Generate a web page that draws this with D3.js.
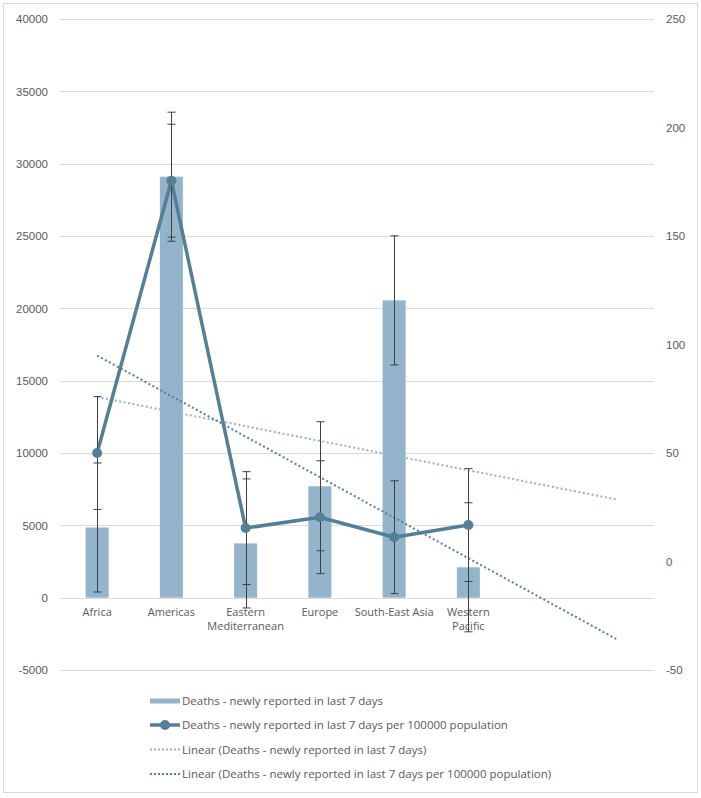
<!DOCTYPE html>
<html>
<head>
<meta charset="utf-8">
<script src="https://cdn.jsdelivr.net/npm/d3@7"></script>
<style>
  html, body { margin: 0; padding: 0; background: #fff; }
  svg { display: block; font-family: "Open Sans", "Liberation Sans", sans-serif; }
</style>
</head>
<body>
<svg id="chart" width="701" height="798"></svg>
<script>
// ---- data ----
const categories = ["Africa", "Americas", "Eastern Mediterranean", "Europe", "South-East Asia", "Western Pacific", "", ""];
const categoryLabelLines = [["Africa"], ["Americas"], ["Eastern", "Mediterranean"], ["Europe"], ["South-East Asia"], ["Western", "Pacific"], [], []];
const deaths = [4850, 29100, 3750, 7700, 20550, 2100, null, null];
const deathsPer100k = [50, 175.5, 15.4, 20.4, 11.2, 16.8, null, null];
const deathsErr = 4460;
const deathsPer100kErr = 26;
const leftTicks = [-5000, 0, 5000, 10000, 15000, 20000, 25000, 30000, 35000, 40000];
const rightTicks = [-50, 0, 50, 100, 150, 200, 250];
const legendLabels = [
  "Deaths - newly reported in last 7 days",
  "Deaths - newly reported in last 7 days per 100000 population",
  "Linear (Deaths - newly reported in last 7 days)",
  "Linear (Deaths - newly reported in last 7 days per 100000 population)"
];

// ---- styles ----
const barColor = "#93b4ca";
const lineColor = "#557f97";
const gridColor = "#d9d9d9";
const textColor = "#595959";
const errColor = "#404040";

const svg = d3.select("#chart");
const pLeft = 60, pRight = 654, pTop = 19, pBottom = 670;

// outer border
svg.append("rect").attr("x", 3.5).attr("y", 3.5).attr("width", 694).attr("height", 789)
  .attr("fill", "#fff").attr("stroke", gridColor).attr("stroke-width", 1);

const idx = d3.range(categories.length);
const x = d3.scaleBand().domain(idx).range([pLeft, pRight]).paddingInner(0.69).paddingOuter(0.345);
const cx = i => x(i) + x.bandwidth() / 2;
const yL = d3.scaleLinear().domain([-5000, 40000]).range([pBottom, pTop]);
const yR = d3.scaleLinear().domain([-50, 250]).range([pBottom, pTop]);
const fmt = d => String(d);

// grid
const gGrid = svg.append("g");
gGrid.selectAll("line").data(leftTicks).join("line")
  .attr("x1", pLeft).attr("x2", pRight)
  .attr("y1", d => Math.round(yL(d)) + 0.5).attr("y2", d => Math.round(yL(d)) + 0.5)
  .attr("stroke", gridColor).attr("stroke-width", 1);

// left axis
const axL = svg.append("g").attr("transform", `translate(${pLeft - 12},0)`)
  .call(d3.axisLeft(yL).tickValues(leftTicks).tickSize(0).tickPadding(0).tickFormat(fmt));
axL.select(".domain").remove();
axL.selectAll("text").attr("fill", textColor).style("font-size", "11.5px");

// right axis
const axR = svg.append("g").attr("transform", `translate(${pRight + 12},0)`)
  .call(d3.axisRight(yR).tickValues(rightTicks).tickSize(0).tickPadding(0).tickFormat(fmt));
axR.select(".domain").remove();
axR.selectAll("text").attr("fill", textColor).style("font-size", "11.5px");

// category labels
const gX = svg.append("g");
idx.forEach(i => {
  const t = gX.append("text").attr("x", cx(i)).attr("y", yL(0) + 18)
    .attr("text-anchor", "middle").attr("fill", textColor).style("font-size", "11px");
  categoryLabelLines[i].forEach((ln, k) => {
    t.append("tspan").attr("x", cx(i)).attr("dy", k === 0 ? 0 : 14).text(ln);
  });
});

// bars
const barData = idx.filter(i => deaths[i] != null);
svg.append("g").selectAll("rect").data(barData).join("rect")
  .attr("x", i => x(i)).attr("width", x.bandwidth())
  .attr("y", i => yL(Math.max(0, deaths[i])))
  .attr("height", i => Math.abs(yL(deaths[i]) - yL(0)))
  .attr("fill", barColor);

// linear trend helper (least squares over the plotted points)
function linFit(vals) {
  const pts = vals.map((v, i) => [i + 1, v]).filter(p => p[1] != null);
  const mx = d3.mean(pts, p => p[0]), my = d3.mean(pts, p => p[1]);
  const sxy = d3.sum(pts, p => (p[0] - mx) * (p[1] - my));
  const sxx = d3.sum(pts, p => (p[0] - mx) ** 2);
  const b = sxy / sxx, a = my - b * mx;
  return xv => a + b * xv;
}
const fitDeaths = linFit(deaths);
const fitPer = linFit(deathsPer100k);
const ends = [0, categories.length - 1];

svg.append("path")
  .attr("d", d3.line().x(i => cx(i)).y(i => yL(fitDeaths(i + 1)))(ends))
  .attr("fill", "none").attr("stroke", barColor).attr("stroke-width", 2).attr("stroke-dasharray", "2,2.5");
svg.append("path")
  .attr("d", d3.line().x(i => cx(i)).y(i => yR(fitPer(i + 1)))(ends))
  .attr("fill", "none").attr("stroke", lineColor).attr("stroke-width", 2).attr("stroke-dasharray", "2,2.5");

// line series
const lineData = idx.filter(i => deathsPer100k[i] != null);
svg.append("path")
  .attr("d", d3.line().x(i => cx(i)).y(i => yR(deathsPer100k[i]))(lineData))
  .attr("fill", "none").attr("stroke", lineColor).attr("stroke-width", 3.5).attr("stroke-linejoin", "round");

// error bars
function errBars(data, val, scale, err) {
  const g = svg.append("g").attr("stroke", errColor).attr("stroke-width", 1);
  data.forEach(i => {
    const xc = Math.round(cx(i)) + 0.5;
    const y1 = scale(val[i] + err), y2 = scale(val[i] - err);
    g.append("line").attr("x1", xc).attr("x2", xc).attr("y1", y1).attr("y2", y2);
    [y1, y2].forEach(yy => g.append("line").attr("x1", xc - 4).attr("x2", xc + 4).attr("y1", yy).attr("y2", yy));
  });
}
errBars(barData, deaths, yL, deathsErr);
errBars(lineData, deathsPer100k, yR, deathsPer100kErr);

// markers
svg.append("g").selectAll("circle").data(lineData).join("circle")
  .attr("cx", i => cx(i)).attr("cy", i => yR(deathsPer100k[i])).attr("r", 5)
  .attr("fill", lineColor);

// legend
const lg = svg.append("g");
const lx = 150, lRows = [701, 725, 749.5, 774];
lg.append("rect").attr("x", lx).attr("y", lRows[0] - 2.5).attr("width", 30).attr("height", 5).attr("fill", barColor);
lg.append("line").attr("x1", lx).attr("x2", lx + 30).attr("y1", lRows[1]).attr("y2", lRows[1])
  .attr("stroke", lineColor).attr("stroke-width", 3.5);
lg.append("circle").attr("cx", lx + 15).attr("cy", lRows[1]).attr("r", 5).attr("fill", lineColor);
lg.append("line").attr("x1", lx).attr("x2", lx + 30).attr("y1", lRows[2]).attr("y2", lRows[2])
  .attr("stroke", barColor).attr("stroke-width", 2).attr("stroke-dasharray", "2,2");
lg.append("line").attr("x1", lx).attr("x2", lx + 30).attr("y1", lRows[3]).attr("y2", lRows[3])
  .attr("stroke", lineColor).attr("stroke-width", 2).attr("stroke-dasharray", "2,2");
legendLabels.forEach((t, k) => {
  lg.append("text").attr("x", lx + 32).attr("y", lRows[k]).attr("dy", "0.35em")
    .attr("fill", textColor).style("font-size", "11.5px").text(t);
});
</script>
</body>
</html>
